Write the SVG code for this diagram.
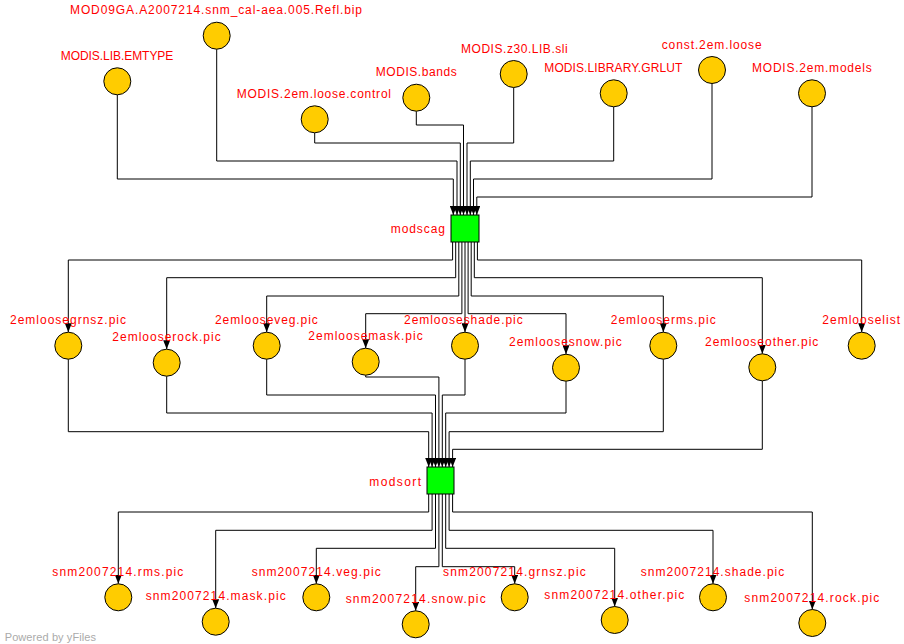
<svg xmlns="http://www.w3.org/2000/svg" width="904" height="644" viewBox="0 0 904 644">
<style>
.n{fill:#FFCC00;stroke:#000;stroke-width:1}
.p{fill:#00FF00;stroke:#000;stroke-width:1}
.t{fill:#FF0000;font-family:"Liberation Sans",Arial,sans-serif;font-size:12px}
.e{fill:none;stroke:#000;stroke-width:1;marker-end:url(#arr)}
.wm{fill:#AAAAAA;font-family:"Liberation Sans",Arial,sans-serif;font-size:11px}
</style>
<defs>
<marker id="arr" markerUnits="userSpaceOnUse" markerWidth="9" markerHeight="7" refX="9" refY="3.5" orient="auto" viewBox="0 0 9 7">
<path d="M0,0 L9,3.5 L0,7 Z" fill="#000"/>
</marker>
</defs>
<rect width="904" height="644" fill="#fff"/>
<g id="edges">
<path class="e" d="M117.3,94.8 V179 H453.3 V215"/>
<path class="e" d="M216.7,49.2 V161 H457 V215"/>
<path class="e" d="M314.7,132.8 V143 H460.3 V215"/>
<path class="e" d="M416.3,111.2 V125 H463.5 V215"/>
<path class="e" d="M513.7,87.5 V143 H467 V215"/>
<path class="e" d="M613.7,106.8 V161 H470.3 V215"/>
<path class="e" d="M712,83.5 V179 H473.5 V215"/>
<path class="e" d="M812,106.8 V197 H476.8 V215"/>
<path class="e" d="M452.6,242 V260 H68.3 V332.2"/>
<path class="e" d="M455.7,242 V277.7 H166.7 V349.2"/>
<path class="e" d="M458.8,242 V296 H266.7 V332.2"/>
<path class="e" d="M461.9,242 V313.7 H365.7 V348.2"/>
<path class="e" d="M465,242 V332.2"/>
<path class="e" d="M468.1,242 V313.7 H566 V354.2"/>
<path class="e" d="M471.2,242 V296 H663.3 V332.2"/>
<path class="e" d="M474.3,242 V277.7 H762.3 V353.8"/>
<path class="e" d="M477.4,242 V260 H861.7 V332.2"/>
<path class="e" d="M68.3,359.2 V431.7 H428.7 V467"/>
<path class="e" d="M166.7,376.2 V413 H432.1 V467"/>
<path class="e" d="M266.7,359.2 V395 H435.5 V467"/>
<path class="e" d="M365.7,375.2 V377 H438.9 V467"/>
<path class="e" d="M465,359.2 V395 H442.3 V467"/>
<path class="e" d="M566,381.2 V413 H445.7 V467"/>
<path class="e" d="M663.3,359.2 V431.7 H449.1 V467"/>
<path class="e" d="M762.3,380.8 V449.3 H452.6 V467"/>
<path class="e" d="M428.7,494 V512 H118.3 V583.8"/>
<path class="e" d="M432.1,494 V530.3 H215.7 V608.2"/>
<path class="e" d="M435.5,494 V548.3 H316.3 V583.8"/>
<path class="e" d="M438.9,494 V566.7 H415.7 V610.8"/>
<path class="e" d="M442.3,494 V566.7 H514.7 V583.8"/>
<path class="e" d="M445.7,494 V548.3 H614.7 V606.5"/>
<path class="e" d="M449.1,494 V530.3 H713 V583.8"/>
<path class="e" d="M452.6,494 V512 H812.3 V609.5"/>
</g>
<g id="n_mod09ga"><circle class="n" cx="216.7" cy="35.7" r="13.5"/><text class="t" x="70" y="14.2" textLength="292" lengthAdjust="spacing">MOD09GA.A2007214.snm_cal-aea.005.Refl.bip</text></g>
<g id="n_emtype"><circle class="n" cx="117.3" cy="81.3" r="13.5"/><text class="t" x="60.7" y="59.8" textLength="112.6" lengthAdjust="spacing">MODIS.LIB.EMTYPE</text></g>
<g id="n_control"><circle class="n" cx="314.7" cy="119.3" r="13.5"/><text class="t" x="236.7" y="97.8" textLength="154.3" lengthAdjust="spacing">MODIS.2em.loose.control</text></g>
<g id="n_bands"><circle class="n" cx="416.3" cy="97.7" r="13.5"/><text class="t" x="375.7" y="76.2" textLength="81" lengthAdjust="spacing">MODIS.bands</text></g>
<g id="n_z30"><circle class="n" cx="513.7" cy="74" r="13.5"/><text class="t" x="461" y="52.5" textLength="106.7" lengthAdjust="spacing">MODIS.z30.LIB.sli</text></g>
<g id="n_grlut"><circle class="n" cx="613.7" cy="93.3" r="13.5"/><text class="t" x="544.3" y="71.8" textLength="138" lengthAdjust="spacing">MODIS.LIBRARY.GRLUT</text></g>
<g id="n_const"><circle class="n" cx="712" cy="70" r="13.5"/><text class="t" x="661.7" y="48.5" textLength="100" lengthAdjust="spacing">const.2em.loose</text></g>
<g id="n_models"><circle class="n" cx="812" cy="93.3" r="13.5"/><text class="t" x="752" y="71.8" textLength="119.7" lengthAdjust="spacing">MODIS.2em.models</text></g>
<g id="p_modscag"><rect class="p" x="451" y="215" width="28" height="27"/><text class="t" x="390.7" y="233.3" textLength="54.3" lengthAdjust="spacing">modscag</text></g>
<g id="n_grnsz"><circle class="n" cx="68.3" cy="345.7" r="13.5"/><text class="t" x="10" y="324.2" textLength="116" lengthAdjust="spacing">2emloosegrnsz.pic</text></g>
<g id="n_rock"><circle class="n" cx="166.7" cy="362.7" r="13.5"/><text class="t" x="112.3" y="341.2" textLength="108.4" lengthAdjust="spacing">2emlooserock.pic</text></g>
<g id="n_veg"><circle class="n" cx="266.7" cy="345.7" r="13.5"/><text class="t" x="215" y="324.2" textLength="102.7" lengthAdjust="spacing">2emlooseveg.pic</text></g>
<g id="n_mask"><circle class="n" cx="365.7" cy="361.7" r="13.5"/><text class="t" x="308.3" y="340.2" textLength="114.4" lengthAdjust="spacing">2emloosemask.pic</text></g>
<g id="n_shade"><circle class="n" cx="465" cy="345.7" r="13.5"/><text class="t" x="404" y="324.2" textLength="118.7" lengthAdjust="spacing">2emlooseshade.pic</text></g>
<g id="n_snow"><circle class="n" cx="566" cy="367.7" r="13.5"/><text class="t" x="509" y="346.2" textLength="112.7" lengthAdjust="spacing">2emloosesnow.pic</text></g>
<g id="n_rms"><circle class="n" cx="663.3" cy="345.7" r="13.5"/><text class="t" x="610.7" y="324.2" textLength="105" lengthAdjust="spacing">2emlooserms.pic</text></g>
<g id="n_other"><circle class="n" cx="762.3" cy="367.3" r="13.5"/><text class="t" x="705" y="345.8" textLength="113.3" lengthAdjust="spacing">2emlooseother.pic</text></g>
<g id="n_list"><circle class="n" cx="861.7" cy="345.7" r="13.5"/><text class="t" x="822.3" y="324.2" textLength="77.7" lengthAdjust="spacing">2emlooselist</text></g>
<g id="p_modsort"><rect class="p" x="427" y="467" width="27" height="27"/><text class="t" x="369.3" y="486" textLength="51.7" lengthAdjust="spacing">modsort</text></g>
<g id="n_s_rms"><circle class="n" cx="118.3" cy="597.3" r="13.5"/><text class="t" x="52.3" y="575.8" textLength="131" lengthAdjust="spacing">snm2007214.rms.pic</text></g>
<g id="n_s_mask"><circle class="n" cx="215.7" cy="621.7" r="13.5"/><text class="t" x="145.7" y="600.2" textLength="140" lengthAdjust="spacing">snm2007214.mask.pic</text></g>
<g id="n_s_veg"><circle class="n" cx="316.3" cy="597.3" r="13.5"/><text class="t" x="251.7" y="575.8" textLength="129" lengthAdjust="spacing">snm2007214.veg.pic</text></g>
<g id="n_s_snow"><circle class="n" cx="415.7" cy="624.3" r="13.5"/><text class="t" x="345.7" y="602.8" textLength="140" lengthAdjust="spacing">snm2007214.snow.pic</text></g>
<g id="n_s_grnsz"><circle class="n" cx="514.7" cy="597.3" r="13.5"/><text class="t" x="443" y="575.8" textLength="142.7" lengthAdjust="spacing">snm2007214.grnsz.pic</text></g>
<g id="n_s_other"><circle class="n" cx="614.7" cy="620" r="13.5"/><text class="t" x="544.3" y="598.5" textLength="140" lengthAdjust="spacing">snm2007214.other.pic</text></g>
<g id="n_s_shade"><circle class="n" cx="713" cy="597.3" r="13.5"/><text class="t" x="640.7" y="575.8" textLength="143.6" lengthAdjust="spacing">snm2007214.shade.pic</text></g>
<g id="n_s_rock"><circle class="n" cx="812.3" cy="623" r="13.5"/><text class="t" x="744.3" y="601.5" textLength="135" lengthAdjust="spacing">snm2007214.rock.pic</text></g>
<text class="wm" x="4.7" y="641" textLength="91.3" lengthAdjust="spacing">Powered by yFiles</text>
</svg>
